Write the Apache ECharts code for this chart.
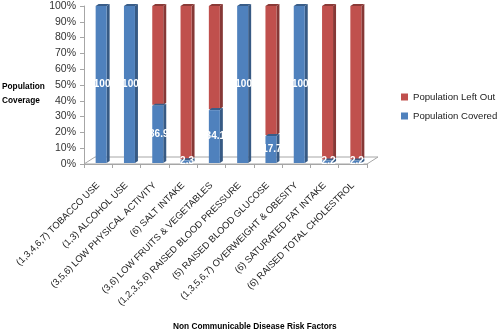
<!DOCTYPE html>
<html><head><meta charset="utf-8">
<script src="https://cdn.jsdelivr.net/npm/echarts@6/dist/echarts.min.js"></script>
<style>html,body{margin:0;padding:0;background:#fff}#c{width:499px;height:332px}</style>
</head><body><div id="c"></div>
<script>
const categories = ["(1,3,4,6,7) TOBACCO USE","(1,3) ALCOHOL USE","(3,5,6) LOW PHYSICAL ACTIVITY","(6) SALT INTAKE","(3,6) LOW FRUITS & VEGETABLES","(1,2,3,5,6) RAISED BLOOD PRESSURE","(5) RAISED BLOOD GLUCOSE","(1,3,5,6,7) OVERWEIGHT & OBESITY","(6) SATURATED FAT INTAKE","(6) RAISED TOTAL CHOLESTROL"];
const covered = [100,100,36.9,2.3,34.1,100,17.7,100,2.2,2.2];
const leftOut = [0,0,63.1,97.7,65.9,0,82.3,0,97.8,97.8];
const yTicks = [0,10,20,30,40,50,60,70,80,90,100];

const FONT = '"Liberation Sans", Arial, sans-serif';
const BLUE = '#4F81BD', RED = '#C0504D';
function shade(hex, f){const n=parseInt(hex.slice(1),16);let r=(n>>16)&255,g=(n>>8)&255,b=n&255;return 'rgb('+Math.round(r*f)+','+Math.round(g*f)+','+Math.round(b*f)+')';}
const W = 11, DX = 3, DY = 2, FDX = 11, FDY = 7, SHIFT = 3;
function make(color, showLabel){
  return function(params, api){
    const i = api.value(0), s = api.value(1), e = api.value(2), lab = api.value(3);
    if (e - s <= 0) return null;
    const p0 = api.coord([i, s]), p1 = api.coord([i, e]);
    const cx = p0[0] + SHIFT;
    const x = cx - W/2, yb = p0[1] - 1, yt = Math.min(p1[1], yb - 1);
    const ch = [
      {type:'polygon', shape:{points:[[x+W,yt],[x+W+DX,yt-DY],[x+W+DX,yb-DY],[x+W,yb]]}, style:{fill:shade(color,0.7)}},
      {type:'polygon', shape:{points:[[x,yt],[x+DX,yt-DY],[x+W+DX,yt-DY],[x+W,yt]]}, style:{fill:shade(color,0.72)}},
      {type:'rect', shape:{x:x, y:yt, width:W, height:yb-yt}, style:{fill:color}}
    ];
    if (showLabel) ch.push({type:'text', style:{text:String(lab), x:cx+1, y:(e-s) < 5 ? yb-2 : (yt+yb)/2, align:'center', verticalAlign:'middle', fill:'#fff', font:'bold 10px "Liberation Sans"'}});
    return {type:'group', children:ch};
  };
}
function floor(params, api){
  const a = api.coord([0, 0]), b = api.coord([categories.length-1, 0]);
  const half = api.size([1, 0])[0] / 2;
  const xl = a[0] - half, xr = b[0] + half, y = a[1];
  return {type:'polygon', shape:{points:[[xl,y],[xl+FDX,y-FDY],[xr+FDX,y-FDY],[xr,y]]}, style:{fill:'#fff', stroke:'#a6a6a6', lineWidth:1}};
}
const redData = categories.map((c,i)=>[i, covered[i], covered[i]+leftOut[i], leftOut[i]]);
const blueData = categories.map((c,i)=>[i, 0, covered[i], covered[i]]);

const chart = echarts.init(document.getElementById('c'), null, {renderer:'canvas'});
chart.setOption({
  animation:false,
  textStyle:{fontFamily:FONT},
  title:[
    {text:'Non Communicable Disease Risk Factors', left:173, bottom:1, padding:0, textStyle:{fontSize:8.3, fontWeight:'bold', color:'#000', fontFamily:FONT}},
    {text:'Population\nCoverage', left:2, top:80, padding:0, textStyle:{fontSize:8.3, fontWeight:'bold', color:'#000', fontFamily:FONT, lineHeight:14}}
  ],
  legend:{orient:'vertical', left:401, top:92, padding:0, itemWidth:7, itemHeight:7, itemGap:9, icon:'rect',
    data:['Population Left Out','Population Covered'], textStyle:{fontSize:9.6, color:'#222', fontFamily:FONT}},
  grid:{left:84, right:132, top:6, bottom:168, containLabel:false, outerBoundsMode:'none'},
  xAxis:{type:'category', data:categories, axisLine:{lineStyle:{color:'#a6a6a6'}}, axisTick:{show:true, length:4, lineStyle:{color:'#a6a6a6'}},
    axisLabel:{rotate:45, fontSize:9.4, color:'#222', interval:0, margin:20, fontFamily:FONT}},
  yAxis:{type:'value', min:0, max:100, interval:10,
    axisLine:{show:true, lineStyle:{color:'#a6a6a6'}}, axisTick:{show:true, length:4, lineStyle:{color:'#a6a6a6'}}, splitLine:{show:false},
    axisLabel:{formatter:'{value}%', fontSize:10.5, color:'#333', margin:8}},
  series:[
    {name:'floor', type:'custom', renderItem:floor, data:[[0,0]], encode:{x:0, y:1}, silent:true, z:1},
    {name:'Population Left Out', type:'custom', itemStyle:{color:RED}, renderItem:make(RED,false), data:redData, encode:{x:0, y:[1,2]}, z:2},
    {name:'Population Covered', type:'custom', itemStyle:{color:BLUE}, renderItem:make(BLUE,true), data:blueData, encode:{x:0, y:[1,2]}, z:3}
  ]
});
</script></body></html>
